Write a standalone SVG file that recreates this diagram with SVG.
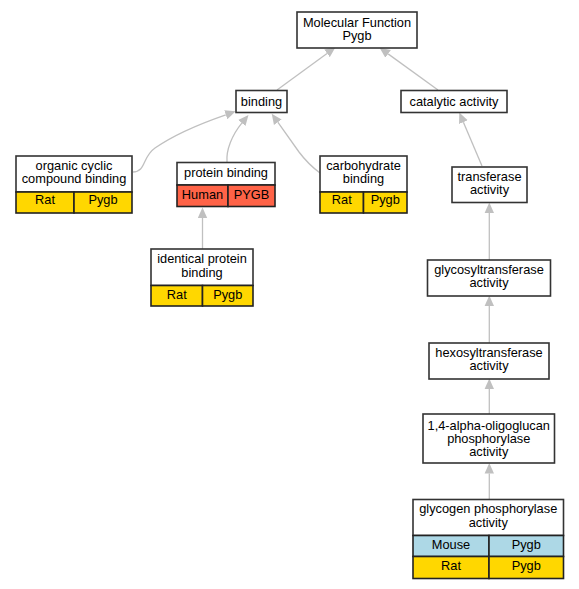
<svg xmlns="http://www.w3.org/2000/svg" width="579" height="589" viewBox="0 0 579 589">
<defs>
<style>
.box{fill:#ffffff;stroke:#333333;stroke-width:1.6}
.gold{fill:#ffd700;stroke:#222222;stroke-width:1.6}
.red{fill:#ff6347;stroke:#222222;stroke-width:1.6}
.blue{fill:#add8e6;stroke:#222222;stroke-width:1.6}
text{font-family:"Liberation Sans",Arial,sans-serif;font-size:12.8px;fill:#000000;text-anchor:middle}
.edge{fill:none;stroke:#c0c0c0;stroke-width:1.3;marker-end:url(#arr)}
</style>
<marker id="arr" markerUnits="userSpaceOnUse" markerWidth="11" markerHeight="10" viewBox="0 0 11 10" refX="0" refY="5" orient="auto">
<path d="M0,0.3 L10.5,5 L0,9.7 z" fill="#c0c0c0"/>
</marker>
</defs>
<rect width="579" height="589" fill="#ffffff"/>
<g id="edges">
<path class="edge" d="M277,90 L327,53.4"/>
<path class="edge" d="M438,90 L388.1,53.9"/>
<path class="edge" d="M133,172 C146,172 142,157 155,148 C175,134 205,122 225.8,114.8"/>
<path class="edge" d="M227,162 C226,150 232,135 241.8,123.1"/>
<path class="edge" d="M320,173 C312,167 305,160 299,152 L277.8,122.2"/>
<path class="edge" d="M482,166 L463.4,122.2"/>
<path class="edge" d="M489.3,260 L489.3,213"/>
<path class="edge" d="M489.3,343 L489.3,306"/>
<path class="edge" d="M489.3,414 L489.3,389"/>
<path class="edge" d="M489.3,499 L489.3,473.5"/>
<path class="edge" d="M202.5,249 L202.5,218"/>
</g>
<g id="mf">
<rect class="box" x="297" y="12" width="120" height="36"/>
<text x="357" y="27">Molecular Function</text>
<text x="357" y="40">Pygb</text>
</g>
<g id="binding">
<rect class="box" x="236" y="90.5" width="51" height="22"/>
<text x="261.5" y="105.5">binding</text>
</g>
<g id="catalytic">
<rect class="box" x="401" y="90.5" width="106" height="22"/>
<text x="454" y="105.5">catalytic activity</text>
</g>
<g id="organic">
<rect class="box" x="16" y="156" width="116" height="36"/>
<rect class="gold" x="16" y="192" width="58" height="21"/>
<rect class="gold" x="74" y="192" width="58" height="21"/>
<text x="74" y="170">organic cyclic</text>
<text x="74" y="183">compound binding</text>
<text x="45" y="204">Rat</text>
<text x="103" y="204">Pygb</text>
</g>
<g id="protein">
<rect class="box" x="177" y="162.5" width="98" height="22.5"/>
<rect class="red" x="177" y="185" width="51" height="21.5"/>
<rect class="red" x="228" y="185" width="47" height="21.5"/>
<text x="226" y="177">protein binding</text>
<text x="202.5" y="198.5">Human</text>
<text x="251.5" y="198.5">PYGB</text>
</g>
<g id="carbohydrate">
<rect class="box" x="320" y="156" width="87" height="36"/>
<rect class="gold" x="320" y="192" width="43.5" height="21"/>
<rect class="gold" x="363.5" y="192" width="43.5" height="21"/>
<text x="363.5" y="170">carbohydrate</text>
<text x="363.5" y="183">binding</text>
<text x="341.75" y="204">Rat</text>
<text x="385.25" y="204">Pygb</text>
</g>
<g id="transferase">
<rect class="box" x="452" y="167" width="75" height="35.5"/>
<text x="489.5" y="180.5">transferase</text>
<text x="489.5" y="193.5">activity</text>
</g>
<g id="identical">
<rect class="box" x="151" y="249" width="102" height="36.5"/>
<rect class="gold" x="151" y="285.5" width="51.5" height="20.5"/>
<rect class="gold" x="202.5" y="285.5" width="50.5" height="20.5"/>
<text x="202" y="263">identical protein</text>
<text x="202" y="276.5">binding</text>
<text x="176.75" y="298.5">Rat</text>
<text x="227.75" y="298.5">Pygb</text>
</g>
<g id="glycosyl">
<rect class="box" x="427.5" y="260" width="123" height="36"/>
<text x="489" y="274">glycosyltransferase</text>
<text x="489" y="287">activity</text>
</g>
<g id="hexosyl">
<rect class="box" x="429" y="343" width="120" height="36"/>
<text x="489" y="357">hexosyltransferase</text>
<text x="489" y="370">activity</text>
</g>
<g id="oligoglucan">
<rect class="box" x="423" y="414" width="131.5" height="49"/>
<text x="488.75" y="430">1,4-alpha-oligoglucan</text>
<text x="488.75" y="443">phosphorylase</text>
<text x="488.75" y="456">activity</text>
</g>
<g id="glycogen">
<rect class="box" x="413" y="499.5" width="150.5" height="36"/>
<rect class="blue" x="413" y="535.5" width="76" height="21"/>
<rect class="blue" x="489" y="535.5" width="74.5" height="21"/>
<rect class="gold" x="413" y="556.5" width="76" height="22"/>
<rect class="gold" x="489" y="556.5" width="74.5" height="22"/>
<text x="488.25" y="513">glycogen phosphorylase</text>
<text x="488.25" y="526.5">activity</text>
<text x="451" y="548.5">Mouse</text>
<text x="526.25" y="548.5">Pygb</text>
<text x="451" y="570">Rat</text>
<text x="526.25" y="570">Pygb</text>
</g>
</svg>
